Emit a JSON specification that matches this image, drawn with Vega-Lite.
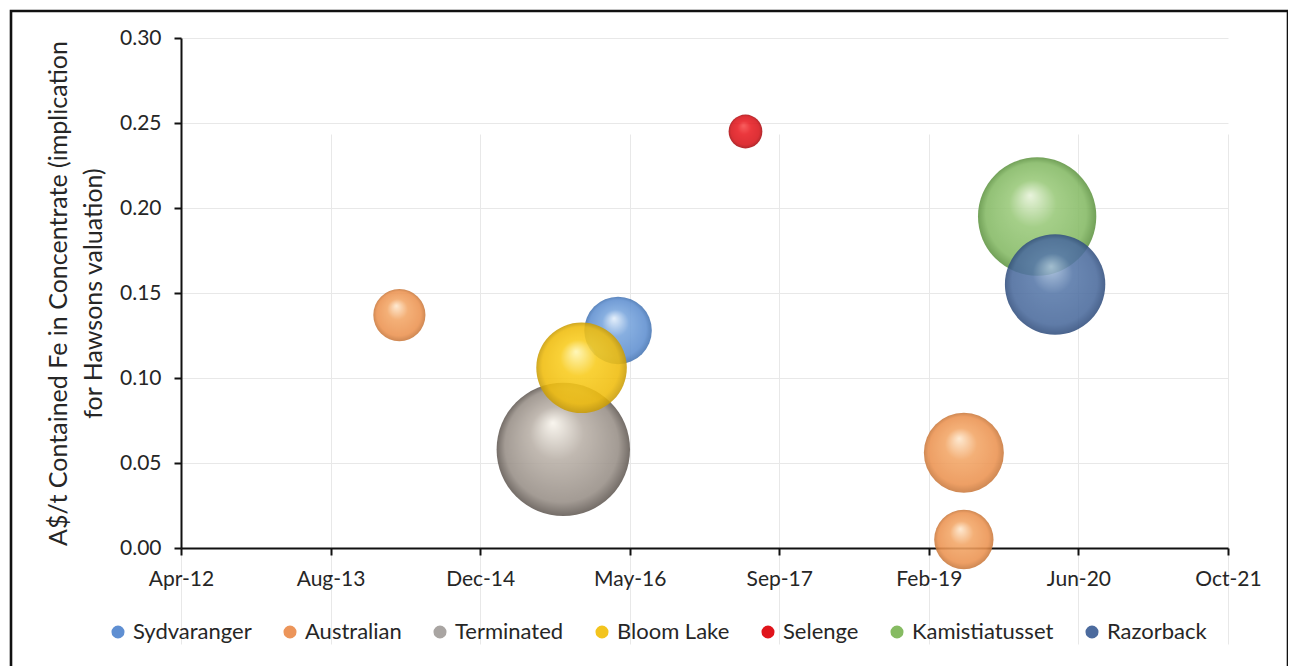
{
  "$schema": "https://vega.github.io/schema/vega-lite/v6.json",
  "width": 1277,
  "height": 660,
  "autosize": {"type": "none"},
  "padding": {"left": 11, "top": 11, "right": 0, "bottom": 0},
  "background": "white",
  "config": {
    "view": {"stroke": "#111111", "strokeWidth": 2.6, "fill": "white"},
    "font": "Lato",
    "axis": {
      "domainColor": "#111111",
      "domainWidth": 2,
      "tickColor": "#111111",
      "tickWidth": 2,
      "tickSize": 7,
      "gridColor": "#e8e8e8",
      "gridWidth": 1,
      "labelFont": "Lato",
      "labelFontSize": 21,
      "labelColor": "#262626",
      "titleFont": "Lato",
      "titleFontSize": 25,
      "titleFontWeight": "normal",
      "titleColor": "#262626"
    }
  },
  "datasets": {
    "deals": [
      {"series": "Sydvaranger", "date": "2016-04-01", "value": 0.128, "size": 11.4},
      {"series": "Australian", "date": "2014-04-01", "value": 0.137, "size": 6.8},
      {"series": "Australian", "date": "2019-06-01", "value": 0.056, "size": 16.0},
      {"series": "Australian", "date": "2019-06-01", "value": 0.005, "size": 8.8},
      {"series": "Terminated", "date": "2015-10-01", "value": 0.058, "size": 44.5},
      {"series": "Bloom Lake", "date": "2015-12-01", "value": 0.106, "size": 20.5},
      {"series": "Selenge", "date": "2017-06-01", "value": 0.245, "size": 2.85},
      {"series": "Kamistiatusset", "date": "2020-02-01", "value": 0.195, "size": 35.0},
      {"series": "Razorback", "date": "2020-04-01", "value": 0.155, "size": 25.2}
    ]
  },
  "data": {"name": "deals"},
  "encoding": {
    "x": {
      "field": "date",
      "type": "temporal",
      "scale": {
        "type": "utc",
        "domain": [1333238400000, 1635638400000],
        "range": [170, 1217]
      },
      "axis": {
        "title": null,
        "grid": true,
        "offset": -123,
        "zindex": 0,
        "format": "%b-%y",
        "labelFlush": false,
        "labelOverlap": false,
        "labelPadding": 13,
        "values": [
          {"year": 2012, "month": "apr", "date": 1, "utc": true},
          {"year": 2013, "month": "aug", "date": 14, "utc": true},
          {"year": 2014, "month": "dec", "date": 27, "utc": true},
          {"year": 2016, "month": "may", "date": 10, "utc": true},
          {"year": 2017, "month": "sep", "date": 22, "utc": true},
          {"year": 2019, "month": "feb", "date": 4, "utc": true},
          {"year": 2020, "month": "jun", "date": 18, "utc": true},
          {"year": 2021, "month": "oct", "date": 31, "utc": true}
        ]
      }
    },
    "y": {
      "field": "value",
      "type": "quantitative",
      "scale": {"domain": [0, 0.3], "range": [537, 27], "nice": false, "zero": false},
      "axis": {
        "title": ["A$/t Contained Fe in Concentrate (implication", "for Hawsons valuation)"],
        "titleLineHeight": 35,
        "titlePadding": 13,
        "grid": true,
        "offset": -170,
        "zindex": 0,
        "format": ".2f",
        "labelPadding": 13,
        "values": [0, 0.05, 0.1, 0.15, 0.2, 0.25, 0.3]
      }
    }
  },
  "layer": [
    {
      "mark": {"type": "circle", "opacity": 0},
      "encoding": {
        "color": {
          "field": "series",
          "type": "nominal",
          "scale": {
            "domain": ["Sydvaranger", "Australian", "Terminated", "Bloom Lake", "Selenge", "Kamistiatusset", "Razorback"],
            "range": ["#5f8fd2", "#ec955a", "#a9a5a2", "#f3c41e", "#e0141b", "#86bb62", "#4c6b9e"]
          },
          "legend": {
            "orient": "none",
            "legendX": 96,
            "legendY": 610,
            "direction": "horizontal",
            "title": null,
            "symbolType": "circle",
            "symbolSize": 170,
            "symbolOpacity": 1,
            "symbolStrokeWidth": 0,
            "labelFont": "Lato",
            "labelFontSize": 22,
            "labelColor": "#262626",
            "labelOffset": 4,
            "columnPadding": 27,
            "padding": 0
          }
        }
      }
    },
    {
      "mark": {"type": "circle", "opacity": 0.88, "strokeWidth": 0},
      "encoding": {
        "size": {
          "field": "size",
          "type": "quantitative",
          "scale": {"domain": [0, 45], "range": [0, 18000], "zero": true},
          "legend": null
        },
        "fill": {
          "condition": [
            {"test": "datum.series === 'Sydvaranger'", "value": {"gradient": "radial", "x1": 0.44, "y1": 0.32, "r1": 0, "x2": 0.5, "y2": 0.5, "r2": 0.5,
              "stops": [{"offset": 0, "color": "#e2eefb"}, {"offset": 0.4, "color": "#77a4dc"}, {"offset": 0.85, "color": "#5f8fd0"}, {"offset": 1, "color": "#4574b2"}]}},
            {"test": "datum.series === 'Australian'", "value": {"gradient": "radial", "x1": 0.44, "y1": 0.32, "r1": 0, "x2": 0.5, "y2": 0.5, "r2": 0.5,
              "stops": [{"offset": 0, "color": "#fee7cc"}, {"offset": 0.4, "color": "#f2a565"}, {"offset": 0.85, "color": "#eb9250"}, {"offset": 1, "color": "#c8783c"}]}},
            {"test": "datum.series === 'Terminated'", "value": {"gradient": "radial", "x1": 0.42, "y1": 0.3, "r1": 0, "x2": 0.5, "y2": 0.5, "r2": 0.5,
              "stops": [{"offset": 0, "color": "#f8f4ec"}, {"offset": 0.4, "color": "#b8afa6"}, {"offset": 0.85, "color": "#978e86"}, {"offset": 1, "color": "#615953"}]}},
            {"test": "datum.series === 'Bloom Lake'", "value": {"gradient": "radial", "x1": 0.44, "y1": 0.32, "r1": 0, "x2": 0.5, "y2": 0.5, "r2": 0.5,
              "stops": [{"offset": 0, "color": "#fff6b0"}, {"offset": 0.4, "color": "#f8cb1c"}, {"offset": 0.85, "color": "#efbc0c"}, {"offset": 1, "color": "#c99c06"}]}},
            {"test": "datum.series === 'Selenge'", "value": {"gradient": "radial", "x1": 0.44, "y1": 0.32, "r1": 0, "x2": 0.5, "y2": 0.5, "r2": 0.5,
              "stops": [{"offset": 0, "color": "#f84a4a"}, {"offset": 0.4, "color": "#e81c22"}, {"offset": 0.85, "color": "#d8141a"}, {"offset": 1, "color": "#a50c10"}]}},
            {"test": "datum.series === 'Kamistiatusset'", "value": {"gradient": "radial", "x1": 0.44, "y1": 0.32, "r1": 0, "x2": 0.5, "y2": 0.5, "r2": 0.5,
              "stops": [{"offset": 0, "color": "#e6f2d8"}, {"offset": 0.4, "color": "#98c878"}, {"offset": 0.85, "color": "#84b964"}, {"offset": 1, "color": "#5f9442"}]}},
            {"test": "datum.series === 'Razorback'", "value": {"gradient": "radial", "x1": 0.46, "y1": 0.32, "r1": 0, "x2": 0.5, "y2": 0.5, "r2": 0.5,
              "stops": [{"offset": 0, "color": "#a6bfdc"}, {"offset": 0.4, "color": "#5677a8"}, {"offset": 0.85, "color": "#4a6a9c"}, {"offset": 1, "color": "#324f7e"}]}}
          ],
          "value": "#999999"
        }
      }
    }
  ]
}
